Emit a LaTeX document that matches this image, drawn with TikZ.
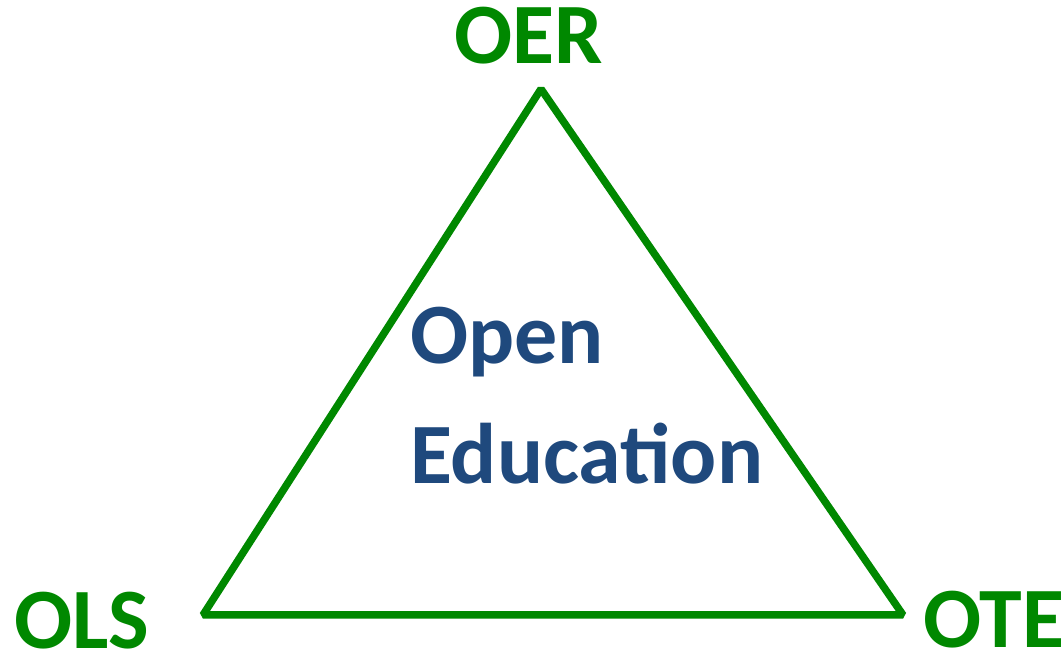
\documentclass[tikz,border=0pt]{standalone}
\usepackage{fontspec}
\setmainfont{Carlito}
\usepackage{tikz}
\usetikzlibrary{calc}
\definecolor{oegreen}{RGB}{0,136,0}
\definecolor{oeblue}{RGB}{31,73,125}
\tikzset{>=latex}

\begin{document}
\begin{tikzpicture}[x = 1pt, y = 1pt]
\useasboundingbox (0, 0) rectangle (1063, 656);
\coordinate (top) at (541, 567);
\coordinate (left) at (203, 41);
\coordinate (right) at (903, 41);
\draw[line width = 7.5, oegreen, line join = bevel] (top) -- (left) -- (right) -- cycle;
\node[anchor = base west, inner sep = 0, oegreen] (oer) at (454, 592) {\fontsize{86}{100}\selectfont\bfseries OER};
\node[anchor = base west, inner sep = 0, oegreen] (ols) at (14, 7) {\fontsize{86}{100}\selectfont\bfseries OLS};
\node[anchor = base west, inner sep = 0, oegreen] (ote) at (923, 9) {\fontsize{86}{100}\selectfont\bfseries OTE};
\node[anchor = base west, inner sep = 0, oeblue] (open) at (410, 292) {\fontsize{86}{100}\selectfont\bfseries Open};
\node[anchor = base west, inner sep = 0, oeblue] (educ) at (410, 172) {\fontsize{86}{100}\selectfont\bfseries Education};
\end{tikzpicture}
\end{document}
